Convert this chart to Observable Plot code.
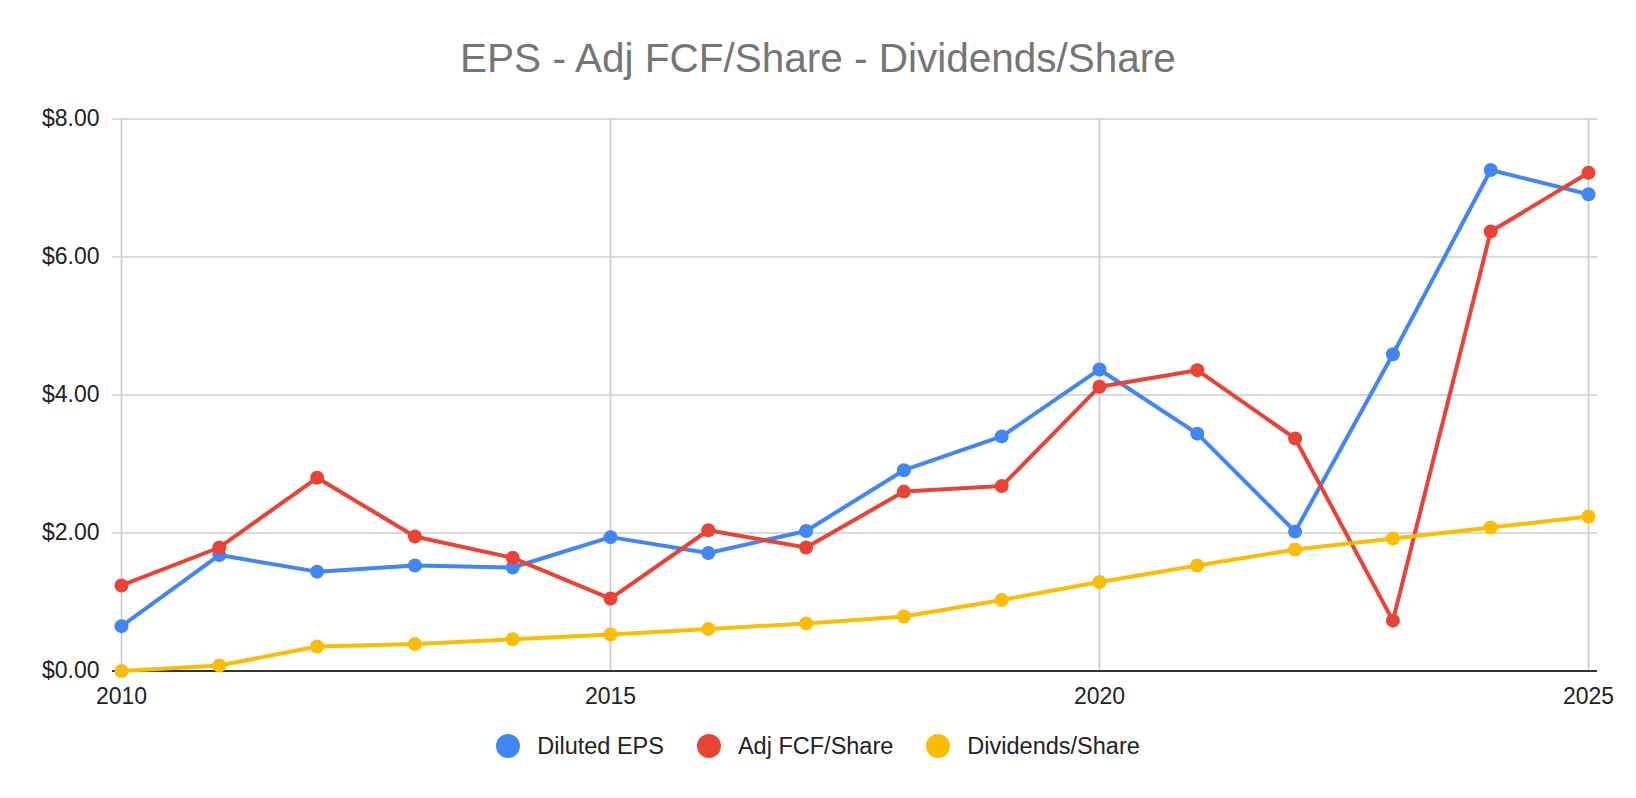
<!DOCTYPE html>
<html>
<head>
<meta charset="utf-8">
<script src="https://cdn.jsdelivr.net/npm/d3@7"></script>
<script src="https://cdn.jsdelivr.net/npm/@observablehq/plot@0.6"></script>
<style>
  html, body { margin: 0; padding: 0; background: #fff; }
  #title { height: 82px; padding-top: 18px; line-height: 80px; text-align: center; white-space: nowrap;
    font-family: "Liberation Sans", Arial, sans-serif; font-size: 40.5px; color: #757575; }
  #chart svg { display: block; }
  #legend { height: 52px; display: flex; justify-content: center; align-items: center;
    font-family: "Liberation Sans", Arial, sans-serif; font-size: 23.5px; color: #222; }
  .item { display: flex; align-items: center; margin: 0 16.5px; }
  .sw { width: 24px; height: 24px; border-radius: 50%; margin-right: 17px; }
</style>
</head>
<body>
<div id="title">EPS - Adj FCF/Share - Dividends/Share</div>
<div id="chart"></div>
<div id="legend"></div>
<script>
const years = [2010,2011,2012,2013,2014,2015,2016,2017,2018,2019,2020,2021,2022,2023,2024,2025];
const dilutedEPS = [0.65,1.68,1.44,1.53,1.50,1.94,1.71,2.03,2.91,3.40,4.37,3.44,2.02,4.59,7.26,6.91];
const adjFCF = [1.24,1.79,2.80,1.95,1.64,1.05,2.04,1.79,2.60,2.68,4.12,4.36,3.37,0.73,6.37,7.22];
const dividends = [0.00,0.08,0.355,0.39,0.46,0.53,0.61,0.69,0.79,1.03,1.29,1.53,1.76,1.92,2.08,2.24];
const seriesNames = ["Diluted EPS","Adj FCF/Share","Dividends/Share"];
const seriesColors = ["#4285F4","#EA4335","#FBBC04"];
const xTicks = [2010,2015,2020,2025];
const yTicks = [0,2,4,6,8];

const seriesValues = [dilutedEPS, adjFCF, dividends];
const data = [];
seriesNames.forEach((s, i) => years.forEach((y, j) => data.push({series: s, year: y, value: seriesValues[i][j]})));

const marks = [
  Plot.gridX(xTicks, {stroke: "#cccccc", strokeOpacity: 1, strokeWidth: 1.7}),
  Plot.gridY(yTicks.filter(d => d !== 0), {stroke: "#cccccc", strokeOpacity: 1, strokeWidth: 1.7}),
  Plot.ruleY([0], {stroke: "#333333", strokeWidth: 2}),
  Plot.axisX(xTicks, {tickSize: 0, tickPadding: 17, tickFormat: d => String(d), label: null, fontSize: 23}),
  Plot.axisY(yTicks, {tickSize: 0, tickPadding: 13, tickFormat: d3.format("$.2f"), label: null, fontSize: 23})
];
seriesNames.forEach((s, i) => {
  const d = data.filter(r => r.series === s);
  marks.push(Plot.line(d, {x: "year", y: "value", stroke: seriesColors[i], strokeWidth: 4}));
  marks.push(Plot.dot(d, {x: "year", y: "value", fill: seriesColors[i], r: 7}));
});

const chart = Plot.plot({
  width: 1636,
  height: 620,
  marginTop: 18.5,
  marginBottom: 49.5,
  marginLeft: 112,
  marginRight: 39,
  x: {domain: [2010, 2025], insetLeft: 9, insetRight: 9},
  y: {domain: [0, 8]},
  style: {fontFamily: "'Liberation Sans', Arial, sans-serif", fontSize: "23px", color: "#222", background: "#fff", overflow: "visible"},
  marks
});
document.getElementById("chart").appendChild(chart);

const legend = document.getElementById("legend");
seriesNames.forEach((s, i) => {
  const it = document.createElement("div");
  it.className = "item";
  const sw = document.createElement("div");
  sw.className = "sw";
  sw.style.background = seriesColors[i];
  const t = document.createElement("span");
  t.textContent = s;
  it.appendChild(sw); it.appendChild(t);
  legend.appendChild(it);
});
</script>
</body>
</html>
